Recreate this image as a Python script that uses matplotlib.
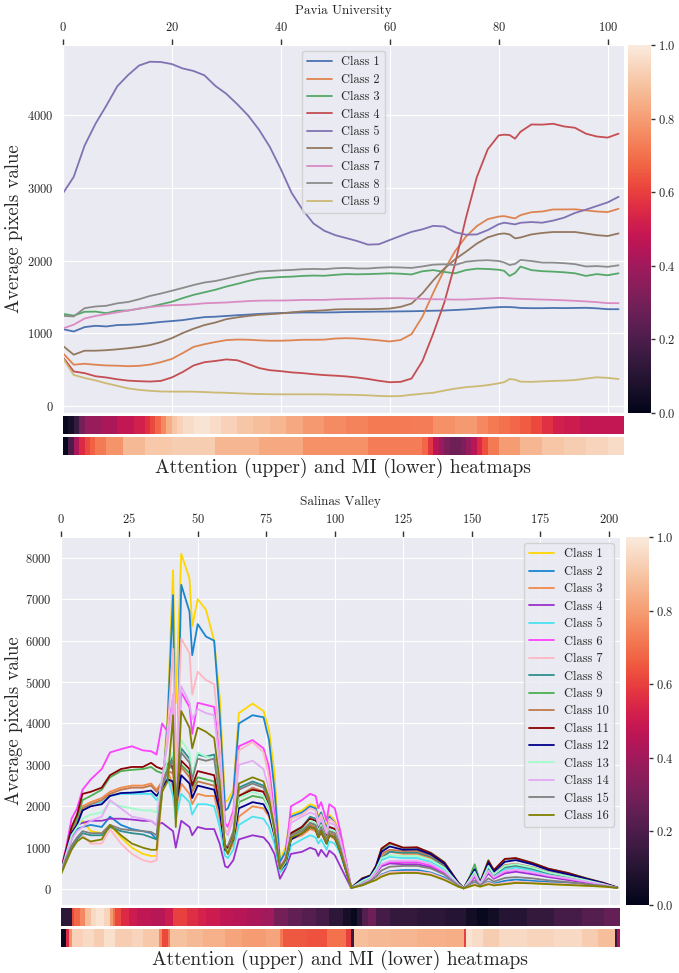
import numpy as np
import matplotlib
matplotlib.use('Agg')
import matplotlib.pyplot as plt
import seaborn as sns
from matplotlib.cm import ScalarMappable
from matplotlib.colors import Normalize

sns.set_style('darkgrid')
plt.rcParams['font.family'] = ['cmr10', 'DejaVu Serif']
plt.rcParams['mathtext.fontset'] = 'cm'
plt.rcParams['axes.formatter.use_mathtext'] = True
plt.rcParams['axes.unicode_minus'] = False

cmap = sns.color_palette('rocket', as_cmap=True)

# ---------------- Pavia University data ----------------
PU_NBANDS = 103
PU_BANDS = [0, 2, 4, 6, 8, 10, 12, 14, 16, 18, 20, 22, 24, 26, 28, 30, 32, 34, 36, 38,
            40, 42, 44, 46, 48, 50, 52, 54, 56, 58, 60, 62, 64, 66, 68, 70, 72, 74, 76, 78,
            80, 81, 82, 83, 84, 86, 88, 90, 92, 94, 96, 98, 100, 102]
pu_c1 = [1059, 1027, 1087, 1105, 1096, 1115, 1119, 1128, 1142, 1158, 1170, 1183, 1205, 1224, 1230, 1240, 1250, 1258, 1268, 1275,
         1280, 1284, 1288, 1288, 1288, 1290, 1294, 1296, 1298, 1300, 1301, 1303, 1305, 1308, 1312, 1315, 1322, 1330, 1340, 1352,
         1361, 1363, 1362, 1358, 1350, 1347, 1347, 1350, 1348, 1350, 1352, 1345, 1333, 1333]
pu_c2 = [731, 571, 584, 570, 560, 557, 550, 555, 572, 605, 650, 730, 815, 852, 882, 908, 916, 914, 905, 900,
         900, 905, 913, 913, 915, 930, 935, 930, 918, 905, 890, 910, 990, 1230, 1560, 1870, 2130, 2330, 2475, 2570,
         2605, 2612, 2595, 2580, 2625, 2665, 2675, 2703, 2703, 2705, 2690, 2675, 2667, 2712]
pu_c3 = [1269, 1245, 1297, 1300, 1278, 1312, 1315, 1340, 1365, 1400, 1435, 1485, 1530, 1565, 1600, 1644, 1680, 1720, 1752, 1765,
         1775, 1780, 1790, 1795, 1792, 1805, 1815, 1812, 1815, 1820, 1826, 1820, 1810, 1854, 1870, 1845, 1826, 1870, 1890, 1885,
         1875, 1860, 1790, 1830, 1918, 1870, 1855, 1849, 1840, 1826, 1790, 1815, 1799, 1826]
pu_c4 = [676, 478, 455, 412, 395, 370, 352, 344, 339, 348, 395, 470, 560, 605, 622, 643, 632, 580, 525, 495,
         482, 465, 455, 440, 428, 420, 410, 395, 375, 350, 330, 335, 380, 620, 1000, 1420, 1960, 2590, 3150, 3530,
         3720, 3730, 3725, 3675, 3770, 3870, 3868, 3880, 3843, 3825, 3744, 3705, 3690, 3744]
pu_c5 = [2922, 3150, 3580, 3880, 4130, 4395, 4550, 4680, 4732, 4728, 4700, 4640, 4605, 4545, 4400, 4292, 4150, 3995, 3800, 3562,
         3260, 2930, 2700, 2511, 2410, 2350, 2310, 2270, 2220, 2225, 2283, 2340, 2395, 2430, 2478, 2468, 2390, 2356, 2360, 2420,
         2500, 2521, 2510, 2498, 2520, 2530, 2521, 2550, 2590, 2655, 2700, 2750, 2800, 2877]
pu_c6 = [831, 708, 763, 763, 770, 782, 797, 815, 840, 880, 935, 1005, 1065, 1115, 1150, 1196, 1220, 1240, 1256, 1265,
         1275, 1290, 1302, 1310, 1318, 1330, 1333, 1333, 1333, 1336, 1342, 1365, 1410, 1550, 1730, 1890, 2018, 2123, 2235, 2320,
         2365, 2374, 2360, 2306, 2318, 2360, 2380, 2393, 2393, 2393, 2372, 2350, 2338, 2374]
pu_c7 = [1068, 1120, 1205, 1240, 1265, 1290, 1315, 1342, 1362, 1378, 1388, 1392, 1400, 1414, 1420, 1425, 1435, 1444, 1450, 1452,
         1452, 1455, 1460, 1461, 1461, 1468, 1472, 1475, 1478, 1482, 1484, 1484, 1480, 1475, 1470, 1468, 1465, 1466, 1474, 1480,
         1488, 1486, 1482, 1478, 1475, 1470, 1465, 1461, 1455, 1448, 1440, 1430, 1416, 1416]
pu_c8 = [1242, 1233, 1347, 1370, 1380, 1414, 1432, 1470, 1515, 1548, 1586, 1625, 1665, 1700, 1720, 1753, 1788, 1818, 1849, 1858,
         1866, 1872, 1882, 1886, 1882, 1895, 1900, 1892, 1892, 1903, 1909, 1906, 1900, 1920, 1945, 1950, 1940, 1985, 2000, 2005,
         1995, 1975, 1940, 1955, 2009, 1995, 1973, 1973, 1965, 1952, 1920, 1925, 1915, 1936]
pu_c9 = [662, 430, 388, 355, 315, 280, 245, 225, 212, 203, 201, 201, 200, 195, 188, 185, 178, 172, 168, 165,
         164, 164, 164, 164, 163, 160, 158, 155, 150, 142, 137, 140, 158, 172, 185, 215, 242, 262, 274, 290,
         315, 330, 374, 365, 338, 335, 342, 348, 352, 360, 380, 398, 390, 374]
PU_SERIES = [pu_c1, pu_c2, pu_c3, pu_c4, pu_c5, pu_c6, pu_c7, pu_c8, pu_c9]
PU_LABELS = ['Class %d' % i for i in range(1, 10)]
PU_COLORS = ['#4c72b0', '#dd8452', '#55a868', '#c44e52', '#8172b3', '#937860', '#da8bc3', '#8c8c8c', '#ccb974']

PU_ATT_EDGES = [0, 1, 2, 3, 4, 7, 10, 13, 15, 16, 17, 18, 19, 20, 21, 22, 24, 27, 29, 32,
                35, 38, 41, 44, 48, 52, 56, 60, 64, 68, 72, 76, 78, 80, 82, 84, 86, 88, 90, 92, 95, 103]
PU_ATT_VALS = [0.02, 0.06, 0.15, 0.3, 0.38, 0.42, 0.48, 0.52, 0.57, 0.62, 0.68, 0.75, 0.84, 0.9, 0.93,
               0.96, 0.98, 0.96, 0.93, 0.9, 0.88, 0.86, 0.83, 0.79, 0.76, 0.74, 0.72, 0.72, 0.73, 0.77,
               0.79, 0.75, 0.72, 0.7, 0.68, 0.66, 0.62, 0.57, 0.52, 0.5, 0.48]
PU_MI_EDGES = [0, 1, 2, 3, 4, 5, 6, 8, 11, 15, 20, 28, 36, 44, 56, 66, 67, 68, 69, 70,
               71, 73, 74, 75, 76, 77, 78, 80, 84, 88, 92, 96, 100, 103]
PU_MI_VALS = [0.02, 0.2, 0.42, 0.55, 0.62, 0.67, 0.72, 0.78, 0.87, 0.91, 0.92, 0.86, 0.83, 0.77, 0.73,
              0.68, 0.58, 0.45, 0.38, 0.32, 0.28, 0.32, 0.38, 0.45, 0.55, 0.63, 0.72, 0.8, 0.86, 0.9,
              0.92, 0.94, 0.96]

# ---------------- Salinas Valley data ----------------
SV_NBANDS = 204
SV_BANDS = [0, 2, 4, 6, 8, 11, 15, 18, 22, 26, 30, 33, 35, 37, 39, 41, 42, 44, 47, 48,
            50, 53, 56, 58, 60, 61, 63, 65, 70, 74, 76, 78, 80, 82, 84, 88, 91, 93, 94, 95,
            97, 98, 100, 102, 106, 110, 113, 115, 117, 120, 125, 130, 135, 140, 145, 147, 149, 151, 153, 156,
            158, 162, 166, 172, 178, 185, 192, 198, 203]
sv_c1 = [400, 850, 1300, 1550, 1650, 1400, 1350, 1550, 1250, 1000, 850, 800, 800, 2300, 4200,
         7700, 4500, 8100, 7500, 6350, 7000, 6750, 6000, 4650, 2100, 2150, 2400, 4250, 4480, 4300,
         3850, 2800, 700, 1000, 1800, 1900, 2050, 2000, 1750, 1850, 1500, 1800, 1650, 1300, 30,
         100, 180, 220, 300, 380, 400, 400, 350, 230, 60, 20, 60, 100, 60, 120,
         90, 120, 150, 140, 120, 100, 80, 60, 30]
sv_c2 = [380, 800, 1200, 1450, 1500, 1550, 1500, 1750, 1550, 1450, 1400, 1350, 1200, 2300, 4000,
         7100, 1700, 7350, 6700, 5650, 6400, 6100, 6000, 4250, 1900, 1950, 2300, 4000, 4200, 4150,
         3600, 2400, 650, 900, 1750, 1850, 2000, 1950, 1700, 1850, 1450, 1750, 1600, 1250, 30,
         100, 200, 250, 350, 430, 460, 460, 400, 280, 70, 20, 80, 150, 80, 180,
         130, 200, 230, 200, 170, 140, 110, 80, 30]
sv_c3 = [420, 900, 1450, 1650, 2000, 2100, 2200, 2350, 2450, 2500, 2500, 2550, 2400, 2600, 2900,
         2450, 1900, 2550, 2300, 2050, 2300, 2250, 2250, 1700, 1000, 850, 1100, 1750, 2000, 1950,
         1750, 1300, 450, 600, 1200, 1300, 1450, 1400, 1250, 1350, 1100, 1300, 1200, 950, 30,
         180, 300, 550, 800, 900, 850, 850, 750, 550, 150, 20, 200, 400, 150, 500,
         330, 520, 550, 480, 380, 300, 200, 120, 30]
sv_c4 = [380, 800, 1300, 1550, 1600, 1650, 1650, 1700, 1700, 1680, 1650, 1650, 1550, 1600, 1500,
         1400, 1000, 1650, 1500, 1300, 1500, 1450, 1450, 1100, 550, 520, 700, 1200, 1300, 1250,
         1100, 850, 250, 500, 850, 900, 1000, 950, 800, 950, 780, 930, 820, 550, 20,
         130, 220, 380, 550, 620, 600, 600, 530, 380, 100, 20, 130, 300, 100, 380,
         250, 380, 420, 360, 290, 220, 150, 90, 30]
sv_c5 = [420, 900, 1450, 1650, 1950, 2050, 2100, 2250, 2300, 2300, 2300, 2300, 2150, 2350, 2700,
         2250, 1700, 2300, 2100, 1800, 2050, 2050, 2000, 1500, 800, 750, 950, 1550, 1750, 1700,
         1500, 1100, 400, 550, 1050, 1200, 1300, 1250, 1100, 1200, 950, 1150, 1100, 850, 30,
         170, 280, 480, 700, 780, 750, 750, 660, 480, 130, 20, 180, 380, 130, 470,
         310, 480, 520, 450, 360, 280, 190, 110, 30]
sv_c6 = [450, 1000, 1700, 1950, 2400, 2650, 2900, 3300, 3380, 3450, 3350, 3330, 3250, 4000, 3800,
         4600, 2500, 4750, 4400, 3750, 4500, 4450, 4400, 3200, 1600, 1500, 1900, 3450, 3600, 3400,
         2950, 1800, 500, 750, 2000, 2150, 2300, 2250, 1950, 2100, 1650, 2050, 1950, 1400, 30,
         130, 230, 400, 580, 650, 650, 650, 570, 400, 110, 20, 150, 330, 110, 420,
         270, 420, 460, 400, 320, 250, 170, 100, 30]
sv_c7 = [360, 750, 1050, 1250, 1300, 1100, 1100, 1450, 1100, 850, 700, 650, 700, 2400, 3800,
         5800, 2800, 6050, 5700, 4700, 5250, 5050, 4950, 3600, 1400, 1400, 1800, 3350, 3550, 3300,
         2700, 1600, 450, 700, 1700, 1800, 1950, 1900, 1650, 1800, 1400, 1700, 1600, 1200, 30,
         110, 190, 250, 330, 410, 420, 420, 380, 250, 70, 20, 70, 130, 70, 160,
         110, 150, 180, 160, 140, 120, 90, 70, 30]
sv_c8 = [350, 700, 1000, 1200, 1350, 1300, 1300, 1500, 1400, 1350, 1320, 1250, 1200, 2500, 2900,
         3200, 2300, 3400, 3150, 2700, 3250, 3200, 3250, 2300, 1000, 1000, 1350, 2450, 2600, 2500,
         2150, 1450, 500, 700, 1350, 1500, 1750, 1700, 1450, 1600, 1250, 1500, 1450, 1050, 30,
         160, 270, 450, 750, 900, 880, 880, 780, 560, 140, 20, 200, 420, 140, 520,
         340, 530, 570, 490, 380, 300, 200, 120, 30]
sv_c9 = [400, 900, 1450, 1700, 2150, 2250, 2400, 2700, 2850, 2880, 2900, 2950, 2850, 2800, 3000,
         2900, 2200, 3000, 2800, 2450, 2700, 2650, 2600, 2000, 1000, 950, 1250, 2100, 2250, 2200,
         1950, 1400, 500, 650, 1300, 1450, 1600, 1550, 1350, 1500, 1200, 1400, 1350, 1000, 30,
         260, 330, 550, 950, 1100, 1000, 1000, 880, 650, 160, 20, 270, 600, 170, 700,
         450, 720, 740, 640, 490, 390, 260, 150, 40]
sv_c10 = [400, 900, 1400, 1600, 1950, 2050, 2150, 2300, 2400, 2450, 2450, 2500, 2350, 2550, 2850,
          2800, 2100, 2950, 2700, 2350, 2600, 2550, 2500, 1950, 950, 950, 1250, 2250, 2450, 2350,
          2050, 1400, 480, 650, 1300, 1400, 1550, 1500, 1300, 1450, 1150, 1350, 1300, 950, 30,
          200, 300, 500, 850, 950, 920, 920, 810, 590, 150, 20, 220, 450, 150, 560,
          370, 580, 610, 530, 410, 320, 210, 130, 30]
sv_c11 = [420, 950, 1500, 1800, 2300, 2350, 2450, 2750, 2900, 2950, 2950, 3050, 2950, 2900, 3050,
          2950, 2300, 3100, 2900, 2500, 2850, 2800, 2750, 2050, 1050, 1000, 1300, 2250, 2400, 2350,
          2050, 1450, 520, 700, 1350, 1500, 1700, 1650, 1400, 1550, 1250, 1500, 1450, 1050, 30,
          260, 330, 560, 980, 1120, 1000, 1010, 870, 640, 160, 20, 260, 450, 160, 680,
          460, 730, 750, 630, 490, 390, 250, 150, 40]
sv_c12 = [400, 880, 1350, 1550, 1900, 2000, 2050, 2250, 2320, 2330, 2350, 2380, 2250, 2450, 2650,
          2600, 2000, 2750, 2550, 2200, 2500, 2450, 2400, 1900, 950, 900, 1200, 1950, 2100, 2050,
          1800, 1300, 450, 600, 1200, 1350, 1500, 1450, 1250, 1400, 1100, 1300, 1250, 900, 30,
          240, 320, 530, 900, 1030, 950, 960, 840, 610, 150, 20, 240, 480, 150, 630,
          420, 660, 700, 600, 460, 360, 240, 140, 35]
sv_c13 = [380, 850, 1300, 1500, 1700, 1800, 1850, 2100, 2000, 1950, 1900, 1900, 1850, 2700, 3100,
          3300, 2400, 3600, 3300, 2750, 3300, 3200, 3150, 2250, 1000, 900, 1250, 2200, 2350, 2250,
          1950, 1350, 450, 650, 1250, 1400, 1650, 1600, 1400, 1550, 1200, 1450, 1400, 1000, 30,
          200, 290, 480, 750, 820, 800, 800, 700, 510, 130, 20, 210, 420, 130, 560,
          360, 560, 600, 520, 400, 310, 210, 120, 30]
sv_c14 = [380, 800, 1200, 1400, 1500, 1650, 1750, 2150, 1950, 1750, 1700, 1650, 1550, 2700, 3500,
          4700, 2400, 4900, 4500, 4100, 4350, 4250, 4200, 3050, 1400, 1300, 1700, 3000, 3100, 2900,
          2400, 1600, 500, 700, 1600, 1750, 1850, 1800, 1550, 1700, 1350, 1600, 1550, 1150, 30,
          140, 240, 400, 600, 680, 690, 690, 610, 430, 110, 20, 160, 350, 110, 440,
          290, 440, 470, 410, 330, 260, 180, 110, 30]
sv_c15 = [350, 750, 1050, 1250, 1400, 1350, 1350, 1550, 1450, 1420, 1400, 1380, 1300, 2450, 2850,
          3100, 2200, 3300, 3050, 2650, 3150, 3100, 3150, 2200, 1050, 1050, 1400, 2400, 2550, 2450,
          2100, 1450, 500, 700, 1300, 1400, 1600, 1550, 1350, 1500, 1200, 1400, 1350, 1000, 30,
          110, 200, 300, 450, 540, 560, 560, 500, 350, 90, 20, 110, 210, 90, 260,
          180, 270, 290, 260, 210, 170, 120, 80, 30]
sv_c16 = [330, 650, 950, 1150, 1250, 1150, 1200, 1550, 1300, 1100, 1000, 950, 950, 2350, 2600,
          4200, 1500, 4300, 3900, 3400, 3900, 3800, 3650, 2600, 1000, 850, 1250, 2550, 2700, 2600,
          2200, 1450, 480, 700, 1250, 1350, 1500, 1450, 1250, 1400, 1100, 1300, 1250, 900, 30,
          90, 170, 220, 300, 370, 390, 390, 340, 220, 60, 20, 60, 100, 60, 120,
          90, 120, 150, 140, 120, 100, 80, 60, 30]
SV_SERIES = [sv_c1, sv_c2, sv_c3, sv_c4, sv_c5, sv_c6, sv_c7, sv_c8,
             sv_c9, sv_c10, sv_c11, sv_c12, sv_c13, sv_c14, sv_c15, sv_c16]
SV_LABELS = ['Class %d' % i for i in range(1, 17)]
SV_COLORS = ['#ffd700', '#1a85d0', '#f28a4a', '#9932cc', '#48e4f0', '#ff40ff', '#ffb6c1', '#2f8f8f',
             '#4caf50', '#c07a4c', '#8b0000', '#00008b', '#9ffcc8', '#e3aaf5', '#808080', '#808000']

SV_ATT_EDGES = [0, 4, 5, 7, 9, 11, 13, 16, 18, 19, 20, 22, 25, 28, 33, 38, 41, 46, 50, 53,
                58, 63, 68, 73, 78, 83, 88, 93, 98, 103, 106, 108, 110, 112, 115, 120, 130, 140, 148, 152,
                156, 160, 170, 180, 190, 198, 204]
SV_ATT_VALS = [0.12, 0.62, 0.68, 0.75, 0.88, 0.95, 0.98, 0.94, 0.8, 0.7, 0.62, 0.55, 0.5, 0.47, 0.45,
               0.5, 0.6, 0.56, 0.53, 0.5, 0.47, 0.45, 0.42, 0.4, 0.3, 0.25, 0.22, 0.18, 0.12, 0.06,
               0.02, 0.1, 0.22, 0.28, 0.18, 0.14, 0.12, 0.1, 0.05, 0.02, 0.05, 0.1, 0.14, 0.18, 0.22, 0.26]
SV_MI_EDGES = [0, 2, 3, 4, 8, 12, 16, 20, 26, 30, 36, 37, 39, 40, 46, 52, 60, 66, 75, 80,
               81, 90, 97, 104, 106, 107, 112, 120, 130, 140, 147, 148, 150, 154, 160, 170, 180, 190, 196, 202,
               203, 204]
SV_MI_VALS = [0.03, 0.55, 0.78, 0.93, 0.95, 0.92, 0.97, 0.92, 0.94, 0.91, 0.75, 0.62, 0.72, 0.89, 0.87,
              0.85, 0.82, 0.8, 0.82, 0.72, 0.65, 0.64, 0.7, 0.6, 0.15, 0.88, 0.87, 0.86, 0.85, 0.84,
              0.6, 0.98, 0.96, 0.92, 0.95, 0.94, 0.95, 0.92, 0.88, 0.15, 0.42]

HM_LABEL = 'Attention (upper) and MI (lower) heatmaps'

W, H = 679, 973
fig = plt.figure(figsize=(W / 100, H / 100), dpi=100)


def px(x0, y0, x1, y1):
    return [x0 / W, 1 - y1 / H, (x1 - x0) / W, (y1 - y0) / H]


def panel(main, hm1, hm2, cb, label_y, bands, series, labels, colors, nb,
          att_e, att_v, mi_e, mi_v, title, legend_loc):
    ax = fig.add_axes(px(*main))
    for ys, lab, c in zip(series, labels, colors):
        ax.plot(bands, ys, color=c, lw=1.3, label=lab)
    ax.set_xlim(0, nb)
    ax.xaxis.tick_top()
    ax.xaxis.set_label_position('top')
    ax.tick_params(axis='x', top=True, bottom=False, labeltop=True, labelbottom=False,
                   length=4, width=1.0, color='0.2', labelsize=9, pad=4)
    ax.tick_params(axis='y', left=False, labelsize=9, pad=3)
    ax.set_xlabel(title, fontsize=9.5, labelpad=5)
    ax.set_ylabel('Average pixels value', fontsize=13.5)
    ax.yaxis.set_label_coords((23 - main[0]) / (main[2] - main[0]), 0.5)
    leg = ax.legend(loc=legend_loc, fontsize=8.9, handlelength=2.0, labelspacing=0.43,
                    borderpad=0.42, frameon=True)
    leg.get_frame().set_edgecolor('0.8')

    for rect, e, v in ((hm1, att_e, att_v), (hm2, mi_e, mi_v)):
        hax = fig.add_axes(px(*rect))
        hax.pcolormesh(np.asarray(e, float), [0, 1], np.asarray(v, float)[None, :],
                       cmap=cmap, vmin=0, vmax=1, shading='flat')
        hax.set_xlim(0, nb)
        hax.set_ylim(0, 1)
        hax.axis('off')

    cax = fig.add_axes(px(*cb))
    cbar = fig.colorbar(ScalarMappable(norm=Normalize(0, 1), cmap=cmap), cax=cax)
    cbar.outline.set_visible(False)
    cbar.set_ticks([0.0, 0.2, 0.4, 0.6, 0.8, 1.0])
    cax.tick_params(right=True, length=3, width=1.0, color='0.2', labelsize=9, pad=2)

    cx = (main[0] + main[2]) / 2 / W
    fig.text(cx, 1 - label_y / H, HM_LABEL, ha='center', va='center', fontsize=14)
    return ax


panel((62.8, 45, 624, 413), (62.8, 416, 624, 434), (62.8, 437, 624, 455), (628, 45, 651, 413), 468,
      PU_BANDS, PU_SERIES, PU_LABELS, PU_COLORS, PU_NBANDS,
      PU_ATT_EDGES, PU_ATT_VALS, PU_MI_EDGES, PU_MI_VALS, 'Pavia University', 'upper center')
panel((60.6, 537, 620, 905), (60.6, 908, 620, 926), (60.6, 929, 620, 947), (625.5, 537, 649, 905), 960,
      SV_BANDS, SV_SERIES, SV_LABELS, SV_COLORS, SV_NBANDS,
      SV_ATT_EDGES, SV_ATT_VALS, SV_MI_EDGES, SV_MI_VALS, 'Salinas Valley', 'upper right')

fig.savefig('out.png', dpi=100)
